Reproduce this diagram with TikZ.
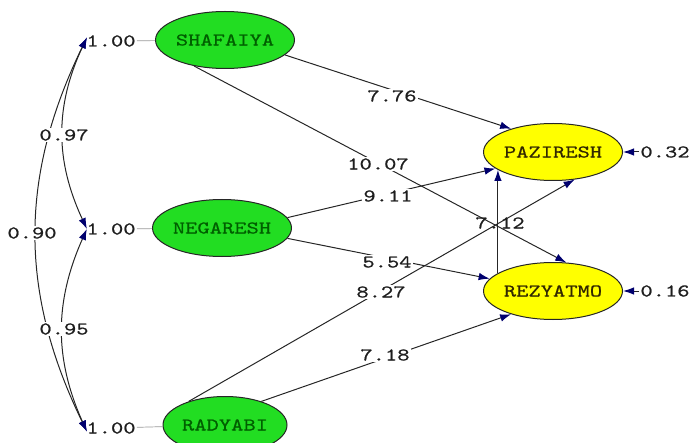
\documentclass[tikz,border=0pt]{standalone}
\usepackage{fontspec}
\newfontfamily\lisrel[FakeStretch=1.3,FakeBold=0.6]{lmmono10-regular.otf}
\usetikzlibrary{arrows.meta,shapes.geometric}
\definecolor{navyhead}{RGB}{0,0,110}
\definecolor{exgreen}{RGB}{34,221,34}
\definecolor{txgreen}{RGB}{0,95,0}
\definecolor{enyellow}{RGB}{255,255,0}
\definecolor{txyellow}{RGB}{50,40,0}
\definecolor{txgray}{RGB}{30,30,30}
\begin{document}
\begin{tikzpicture}[x=1pt,y=-1pt,
  font=\lisrel\fontsize{18}{18}\selectfont,
  exo/.style={ellipse,draw=black!85,fill=exgreen,text=txgreen,minimum width=124pt,minimum height=57pt,inner sep=0pt,line width=1pt},
  endo/.style={ellipse,draw=black!85,fill=enyellow,text=txyellow,minimum width=124pt,minimum height=57pt,inner sep=0pt,line width=1pt},
  coef/.style={fill=white,inner sep=1pt,text=txgray},
  plaincoef/.style={inner sep=1pt,text=txgray},
  causal/.style={draw=black!85,line width=1pt,-{Latex[length=11pt,width=7.5pt,color=navyhead]}},
  cov/.style={draw=black!85,line width=1pt,{Latex[length=11pt,width=7.5pt,color=navyhead]}-{Latex[length=11pt,width=7.5pt,color=navyhead]},shorten <=-4pt,shorten >=-4pt},
  varline/.style={draw=black!40,line width=0.7pt}
]
\useasboundingbox (0,0) rectangle (692,443);

% latent variables
\node[exo] (s) at (225,40) {SHAFAIYA};
\node[exo] (n) at (222,228) {NEGARESH};
\node[exo] (r) at (225,425) {RADYABI};
\node[endo] (p) at (553,152) {PAZIRESH};
\node[endo] (z) at (553,291) {REZYATMO};

% variances
\node[plaincoef] (sv) at (111,41) {1.00};
\node[plaincoef] (nv) at (111,229) {1.00};
\node[plaincoef] (rv) at (111,428) {1.00};
\draw[varline] (sv) -- (s);
\draw[varline] (nv) -- (n);
\draw[varline] (rv) -- (r);

% covariances
\draw[cov] (sv.west) to[bend right=25] (nv.172);
\draw[cov] (sv.west) to[bend right=26] (rv.west);
\draw[cov] (nv.188) to[bend right=24] (rv.west);
\node[coef] (c97) at (64,135) {0.97};
\node[coef] (c90) at (32,233) {0.90};
\node[coef] (c95) at (64,329) {0.95};

% paths
\draw[causal] (s.-14) -- (p.151);
\draw[causal] (s.-140) -- (z.65);
\draw[causal] (n.9) -- (p.-164);
\draw[causal] (n.-9) -- (z.169);
\draw[causal] (r.147) -- (p.-52);
\draw[causal] (r.33) -- (z.-151);
\draw[causal] (z.162.6) -- (p.-162.6);

% errors
\node[plaincoef] (e1) at (665,152) {0.32};
\node[plaincoef] (e2) at (665,291) {0.16};
\draw[causal] (e1) -- (p);
\draw[causal] (e2) -- (z);

% coefficients
\node[coef] (l776) at (392,96) {7.76};
\node[coef] (l1007) at (378,164) {10.07};
\node[coef] (l911) at (388,196) {9.11};
\node[plaincoef] (l712) at (500,223) {7.12};
\node[coef] (l554) at (387,262) {5.54};
\node[coef] (l827) at (381,292) {8.27};
\node[coef] (l718) at (385,355) {7.18};
\end{tikzpicture}
\end{document}
